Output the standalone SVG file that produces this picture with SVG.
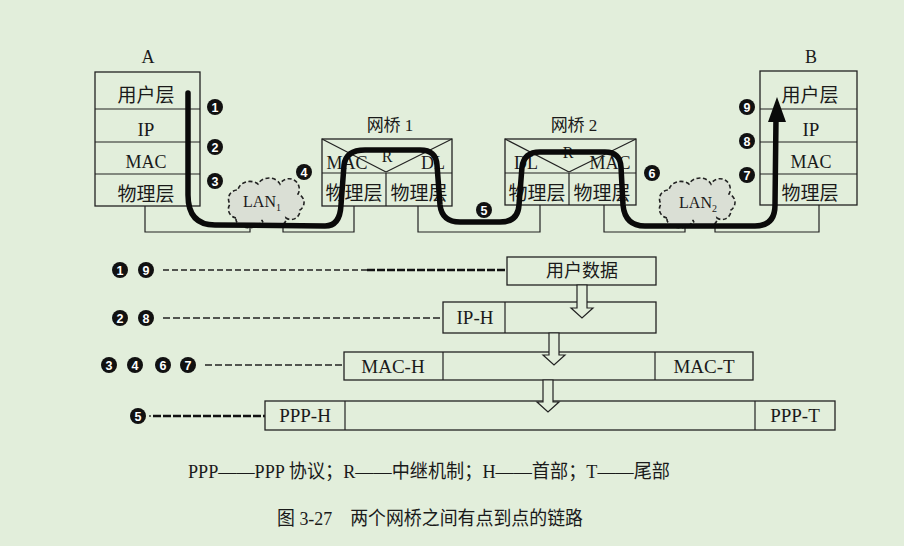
<svg xmlns="http://www.w3.org/2000/svg" width="904" height="546" viewBox="0 0 904 546">
<defs>
<style>
.bg{fill:#e2eedb}
.box{fill:none;stroke:#222;stroke-width:1.3}
.ln{fill:none;stroke:#222;stroke-width:1.2}
.t{font-family:"Liberation Serif","Noto Sans CJK SC",serif;fill:#1a1a1a;text-anchor:middle}
.cj{font-family:"Liberation Serif","Noto Sans CJK SC",serif;fill:#1a1a1a;text-anchor:middle}
.n circle{fill:#111}
.n text{font-family:"Liberation Sans",sans-serif;font-weight:bold;font-size:12.5px;fill:#fff;text-anchor:middle}
.cloud{fill:#dadfd5;stroke:#222;stroke-width:1.6;stroke-dasharray:4,2.5}
.thick{fill:none;stroke:#0a0a0a;stroke-width:5.5;stroke-linecap:round;stroke-linejoin:round}
.hollow{fill:#e2eedb;stroke:#222;stroke-width:1.2}
</style>
<path id="cloudShape" d="M236,218 a9,9 0 0 1 -6,-14 a9,9 0 0 1 8,-14 a12,10 0 0 1 20,-6 a12,10 0 0 1 22,0 a10,10 0 0 1 18,10 a9,9 0 0 1 2,16 a9,9 0 0 1 -14,8 a12,8 0 0 1 -24,2 a12,8 0 0 1 -26,-2 z"/>
</defs>
<rect class="bg" x="0" y="0" width="904" height="546"/>

<g id="connectors">
<polyline class="ln" points="145,206 145,232 250,232 250,219"/>
<polyline class="ln" points="283,219 283,232 354,232 354,206"/>
<polyline class="ln" points="418,206 418,232 540,232 540,205"/>
<polyline class="ln" points="604,205 604,232 685,232 685,220"/>
<polyline class="ln" points="715,220 715,232 819,232 819,205"/>
<line x1="163" y1="270" x2="367" y2="270" stroke="#222" stroke-width="1.3" stroke-dasharray="6,3"/>
<line x1="367" y1="270" x2="507" y2="270" stroke="#111" stroke-width="2.6" stroke-dasharray="8,2"/>
<line x1="163" y1="318" x2="443" y2="318" stroke="#222" stroke-width="1.3" stroke-dasharray="7,3"/>
<line x1="205" y1="365" x2="344" y2="365" stroke="#222" stroke-width="1.3" stroke-dasharray="7,3"/>
<circle cx="150" cy="416" r="0.9" fill="#222"/>
<line x1="153" y1="416" x2="265" y2="416" stroke="#111" stroke-width="2.6" stroke-dasharray="8,2"/>
</g>

<g id="hostA">
<text class="t" x="148" y="63" font-size="18">A</text>
<rect class="box" x="95" y="72" width="105" height="134"/>
<line class="ln" x1="95" y1="109" x2="200" y2="109"/>
<line class="ln" x1="95" y1="142" x2="200" y2="142"/>
<line class="ln" x1="95" y1="174" x2="200" y2="174"/>
<text class="cj" x="146" y="102" font-size="19">用户层</text>
<text class="t" x="146" y="136" font-size="19">IP</text>
<text class="t" x="146" y="168" font-size="18">MAC</text>
<text class="cj" x="146" y="201" font-size="19">物理层</text>
</g>

<g id="hostB">
<text class="t" x="811" y="63" font-size="18">B</text>
<rect class="box" x="760" y="71" width="97" height="134"/>
<line class="ln" x1="760" y1="109" x2="857" y2="109"/>
<line class="ln" x1="760" y1="142" x2="857" y2="142"/>
<line class="ln" x1="760" y1="174" x2="857" y2="174"/>
<text class="cj" x="810" y="102" font-size="19">用户层</text>
<text class="t" x="811" y="136" font-size="19">IP</text>
<text class="t" x="811" y="168" font-size="18">MAC</text>
<text class="cj" x="810" y="200" font-size="19">物理层</text>
</g>

<g id="bridge1">
<text class="cj" x="390" y="131" font-size="17">网桥 1</text>
<rect class="box" x="322" y="139" width="130" height="67"/>
<line class="ln" x1="322" y1="173" x2="452" y2="173"/>
<line class="ln" x1="386" y1="173" x2="386" y2="206"/>
<line class="ln" x1="322" y1="139" x2="386" y2="172"/>
<line class="ln" x1="452" y1="139" x2="386" y2="172"/>
<text class="t" x="347" y="169" font-size="18">MAC</text>
<text class="t" x="387" y="162" font-size="16">R</text>
<text class="t" x="433" y="169" font-size="18">DL</text>
<text class="cj" x="354" y="200" font-size="19">物理层</text>
<text class="cj" x="419" y="200" font-size="19">物理层</text>
</g>

<g id="bridge2">
<text class="cj" x="574" y="131" font-size="17">网桥 2</text>
<rect class="box" x="505" y="139" width="131" height="66"/>
<line class="ln" x1="505" y1="173" x2="636" y2="173"/>
<line class="ln" x1="569" y1="173" x2="569" y2="205"/>
<line class="ln" x1="505" y1="139" x2="569" y2="172"/>
<line class="ln" x1="636" y1="139" x2="569" y2="172"/>
<text class="t" x="526" y="169" font-size="18">DL</text>
<text class="t" x="568" y="158" font-size="16">R</text>
<text class="t" x="610" y="169" font-size="18">MAC</text>
<text class="cj" x="537" y="200" font-size="19">物理层</text>
<text class="cj" x="602" y="200" font-size="19">物理层</text>
</g>

<g id="lan1">
<use href="#cloudShape" class="cloud"/>
<text class="t" x="262" y="207" font-size="16">LAN<tspan font-size="10" dy="4">1</tspan></text>
</g>

<g id="lan2">
<use href="#cloudShape" class="cloud" transform="translate(431,0)"/>
<text class="t" x="698" y="208" font-size="16">LAN<tspan font-size="10" dy="4">2</tspan></text>
</g>

<g id="path">
<path class="thick" d="M188,93 L188,195 Q188,225 215,225 L325,226 Q340,226 341,205 L344,165 Q346,150 365,150 L420,150 Q436,150 437,165 L440,205 Q442,222 460,222 L500,222 Q518,222 519,205 L522,167 Q524,152 540,152 L605,152 Q620,152 621,167 L623,205 Q625,226 645,226 L755,226 Q775,226 775,205 L776,118"/>
<polygon points="777,97 768,122 786,122" fill="#0a0a0a"/>
</g>

<g id="steps">
<g class="n"><circle cx="215" cy="107" r="8"/><text x="215" y="111.5">1</text></g>
<g class="n"><circle cx="215" cy="147" r="8"/><text x="215" y="151.5">2</text></g>
<g class="n"><circle cx="215" cy="181" r="8"/><text x="215" y="185.5">3</text></g>
<g class="n"><circle cx="304" cy="172" r="8"/><text x="304" y="176.5">4</text></g>
<g class="n"><circle cx="484" cy="210" r="8"/><text x="484" y="214.5">5</text></g>
<g class="n"><circle cx="652" cy="173" r="8"/><text x="652" y="177.5">6</text></g>
<g class="n"><circle cx="747" cy="175" r="8"/><text x="747" y="179.5">7</text></g>
<g class="n"><circle cx="747" cy="141" r="8"/><text x="747" y="145.5">8</text></g>
<g class="n"><circle cx="747" cy="107" r="8"/><text x="747" y="111.5">9</text></g>
</g>

<g id="frames">
<g class="n"><circle cx="120" cy="270" r="8"/><text x="120" y="274.5">1</text></g>
<g class="n"><circle cx="146" cy="270" r="8"/><text x="146" y="274.5">9</text></g>
<rect class="box" x="507" y="257" width="149" height="28"/>
<text class="cj" x="582" y="277" font-size="18">用户数据</text>

<g class="n"><circle cx="120" cy="318" r="8"/><text x="120" y="322.5">2</text></g>
<g class="n"><circle cx="146" cy="318" r="8"/><text x="146" y="322.5">8</text></g>
<rect class="box" x="443" y="302" width="213" height="31"/>
<line class="ln" x1="505" y1="302" x2="505" y2="333"/>
<text class="t" x="475" y="324" font-size="19">IP-H</text>

<g class="n"><circle cx="109" cy="365" r="8"/><text x="109" y="369.5">3</text></g>
<g class="n"><circle cx="135" cy="365" r="8"/><text x="135" y="369.5">4</text></g>
<g class="n"><circle cx="163" cy="365" r="8"/><text x="163" y="369.5">6</text></g>
<g class="n"><circle cx="188" cy="365" r="8"/><text x="188" y="369.5">7</text></g>
<rect class="box" x="344" y="352" width="409" height="28"/>
<line class="ln" x1="443" y1="352" x2="443" y2="380"/>
<line class="ln" x1="655" y1="352" x2="655" y2="380"/>
<text class="t" x="393" y="373" font-size="19">MAC-H</text>
<text class="t" x="704" y="373" font-size="19">MAC-T</text>

<g class="n"><circle cx="138" cy="416" r="8"/><text x="138" y="420.5">5</text></g>
<rect class="box" x="265" y="401" width="570" height="29"/>
<line class="ln" x1="345" y1="401" x2="345" y2="430"/>
<line class="ln" x1="755" y1="401" x2="755" y2="430"/>
<text class="t" x="305" y="422" font-size="19">PPP-H</text>
<text class="t" x="795" y="422" font-size="19">PPP-T</text>

<polygon class="hollow" points="577,285 587,285 587,308 593,308 582,318 571,308 577,308"/>
<polygon class="hollow" points="549,333 559,333 559,355 565,355 554,365 543,355 549,355"/>
<polygon class="hollow" points="543,380 553,380 553,402 559,402 548,412 537,402 543,402"/>
</g>

<g id="legend">
<text class="t" x="429" y="478" font-size="19" textLength="482" lengthAdjust="spacingAndGlyphs">PPP——PPP 协议；R——中继机制；H——首部；T——尾部</text>
<text class="t" x="430" y="525" font-size="19" textLength="306" lengthAdjust="spacingAndGlyphs">图 3-27　两个网桥之间有点到点的链路</text>
</g>
</svg>
